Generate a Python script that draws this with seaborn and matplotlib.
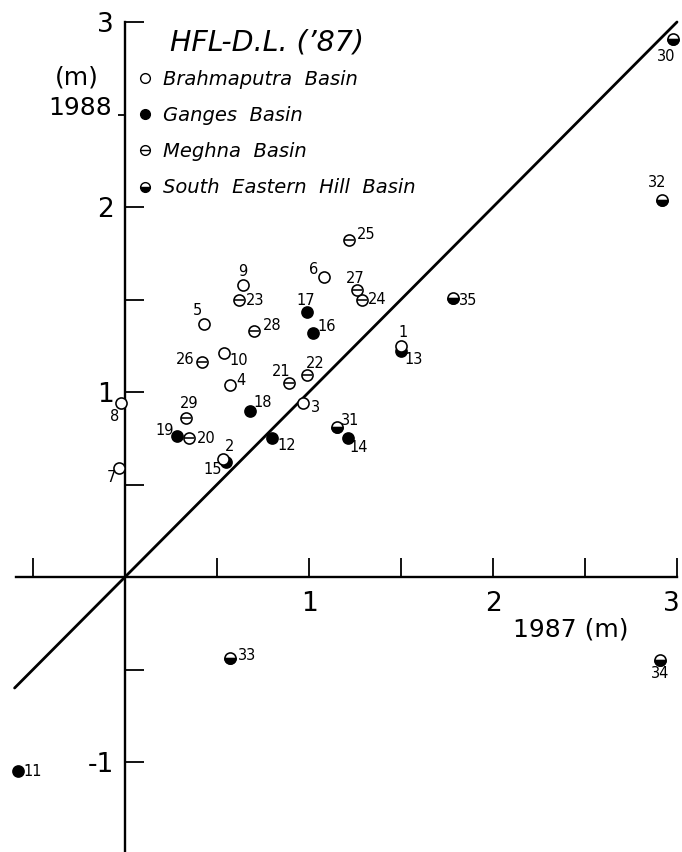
import numpy as np
import pandas as pd
import matplotlib
matplotlib.use("Agg")
import matplotlib.pyplot as plt
import seaborn as sns
from matplotlib.path import Path
from matplotlib.lines import Line2D
from matplotlib.legend_handler import HandlerTuple
from matplotlib.transforms import ScaledTranslation

# ---------------- data ----------------
brahma_ids = [1, 2, 3, 4, 5, 6, 7, 8, 9, 10]
brahma_x = [1.50, 0.53, 0.97, 0.57, 0.43, 1.08, -0.03, -0.02, 0.64, 0.54]
brahma_y = [1.25, 0.64, 0.94, 1.04, 1.37, 1.62, 0.59, 0.94, 1.58, 1.21]

ganges_ids = [11, 12, 13, 14, 15, 16, 17, 18, 19]
ganges_x = [-0.58, 0.80, 1.50, 1.21, 0.55, 1.02, 0.99, 0.68, 0.28]
ganges_y = [-1.05, 0.75, 1.22, 0.75, 0.62, 1.32, 1.43, 0.90, 0.76]

meghna_ids = [20, 21, 22, 23, 24, 25, 26, 27, 28, 29]
meghna_x = [0.35, 0.89, 0.99, 0.62, 1.29, 1.22, 0.42, 1.26, 0.70, 0.33]
meghna_y = [0.75, 1.05, 1.09, 1.50, 1.50, 1.82, 1.16, 1.55, 1.33, 0.86]

sehill_ids = [30, 31, 32, 33, 34, 35]
sehill_x = [2.98, 1.15, 2.92, 0.57, 2.91, 1.78]
sehill_y = [2.91, 0.81, 2.04, -0.44, -0.45, 1.51]

one_to_one = [-0.6, 3.0]

x_ticks = [-0.5, 0.5, 1, 1.5, 2, 2.5, 3]
x_tick_labels = ["", "", "1", "", "2", "", "3"]
y_ticks = [-1, -0.5, 0.5, 1, 1.5, 2, 3]
y_tick_labels = ["-1", "", "", "1", "", "2", "3"]
y_minor_ticks = [2.5]

legend_title = "HFL-D.L. (\u201987)"
legend_labels = ["Brahmaputra  Basin", "Ganges  Basin", "Meghna  Basin",
                 "South  Eastern  Hill  Basin"]

# label offsets (pixels) for point numbers
label_offsets = {
    1: (2, 13), 2: (7, 12), 3: (12, -4), 4: (11, 4), 5: (-7, 13), 6: (-10, 8),
    7: (-8, -10), 8: (-7, -13), 9: (0, 13), 10: (14, -7), 11: (14, 0),
    12: (15, -7), 13: (13, -8), 14: (11, -9), 15: (-14, -7), 16: (14, 6),
    17: (-1, 12), 18: (13, 8), 19: (-12, 6), 20: (17, 0), 21: (-8, 11),
    22: (8, 12), 23: (16, -1), 24: (15, 0), 25: (17, 6), 26: (-17, 3),
    27: (-2, 12), 28: (18, 5), 29: (3, 14), 30: (-7, -18), 31: (14, 7),
    32: (-5, 17), 33: (17, 3), 34: (0, -13), 35: (16, -3),
}

df = pd.concat([
    pd.DataFrame({"id": brahma_ids, "x": brahma_x, "y": brahma_y, "basin": "Brahmaputra"}),
    pd.DataFrame({"id": ganges_ids, "x": ganges_x, "y": ganges_y, "basin": "Ganges"}),
    pd.DataFrame({"id": meghna_ids, "x": meghna_x, "y": meghna_y, "basin": "Meghna"}),
    pd.DataFrame({"id": sehill_ids, "x": sehill_x, "y": sehill_y, "basin": "SEHill"}),
], ignore_index=True)
line_df = pd.DataFrame({"x": one_to_one, "y": one_to_one})

# ---------------- style ----------------
sns.set_theme(style="white")
plt.rcParams["font.family"] = ["DejaVu Sans"]
plt.rcParams["text.color"] = "black"

W, H = 682, 852
fig = plt.figure(figsize=(W / 100, H / 100), dpi=100)
ax = fig.add_axes([0, 0, 1, 1])
ax.set_facecolor("white")

# pixel mapping: origin at (125, 577), 184 px/unit in x, 185 px/unit in y
ax.set_xlim(-125 / 184, (W - 125) / 184)
ax.set_ylim((577 - H) / 185, 577 / 185)

def px(xp, yp):
    return xp / W, 1 - yp / H

S = 64
LW = 1.15

# 1:1 line
sns.lineplot(data=line_df, x="x", y="y", color="black", lw=2.0, ax=ax,
             zorder=2, legend=False)

# half-disk (lower half) marker
theta = np.linspace(np.pi, 2 * np.pi, 40)
verts = np.column_stack([np.cos(theta), np.sin(theta)])
verts = np.vstack([verts, verts[:1]])
codes = [Path.MOVETO] + [Path.LINETO] * (len(theta) - 1) + [Path.CLOSEPOLY]
half_disk = Path(verts, codes)

g = df[df.basin == "Ganges"]
b = df[df.basin == "Brahmaputra"]
m = df[df.basin == "Meghna"]
s = df[df.basin == "SEHill"]

sns.scatterplot(data=g, x="x", y="y", marker="o", s=S, color="black",
                edgecolor="black", linewidth=LW, ax=ax, zorder=4, legend=False)
sns.scatterplot(data=b, x="x", y="y", marker="o", s=S, color="white",
                edgecolor="black", linewidth=LW, ax=ax, zorder=5, legend=False)
sns.scatterplot(data=m, x="x", y="y", marker="o", s=S, color="white",
                edgecolor="black", linewidth=LW, ax=ax, zorder=4, legend=False)
sns.scatterplot(data=m, x="x", y="y", marker="_", s=S * 0.9, color="black",
                linewidth=LW, ax=ax, zorder=4.1, legend=False)
sns.scatterplot(data=s, x="x", y="y", marker="o", s=S, color="white",
                edgecolor="black", linewidth=LW, ax=ax, zorder=4, legend=False)
sns.scatterplot(data=s, x="x", y="y", marker=half_disk, s=S, color="black",
                edgecolor="black", linewidth=LW, ax=ax, zorder=4.1, legend=False)

for _, r in df.iterrows():
    dx, dy = label_offsets[int(r["id"])]
    ax.annotate(str(int(r["id"])), (r["x"], r["y"]), xytext=(dx, dy),
                textcoords="offset pixels", ha="center", va="center",
                fontsize=10.5, color="black", zorder=6)

# axes at the origin
for side in ["top", "right"]:
    ax.spines[side].set_visible(False)
ax.spines["left"].set_position(("data", 0))
ax.spines["bottom"].set_position(("data", 0))
ax.spines["left"].set_bounds(-1.6, 3.0)
ax.spines["bottom"].set_bounds(-0.59, 3.0)
for side in ["left", "bottom"]:
    ax.spines[side].set_color("black")
    ax.spines[side].set_linewidth(1.7)
    ax.spines[side].set_zorder(3)

ax.set_xticks(x_ticks)
ax.set_xticklabels(x_tick_labels)
ax.set_yticks(y_ticks)
ax.set_yticklabels(y_tick_labels)
ax.set_yticks(y_minor_ticks, minor=True)
ax.tick_params(axis="both", which="major", direction="in", length=14, width=1.3,
               color="black", labelsize=19, labelcolor="black",
               bottom=True, left=True, top=False, right=False)
ax.tick_params(axis="y", which="minor", direction="out", length=5, width=1.3,
               color="black", left=True, labelleft=False)
ax.tick_params(axis="x", which="major", pad=10)
ax.tick_params(axis="y", which="major", pad=8)
ax.set_xlabel("")
ax.set_ylabel("")
ax.grid(False)

# nudge the last x tick label inside the canvas
last = ax.get_xticklabels()[-1]
last.set_transform(last.get_transform() + ScaledTranslation(-6 / 100, 0, fig.dpi_scale_trans))

# axis titles
fig.text(*px(77, 77), "(m)", ha="center", va="center", fontsize=18)
fig.text(*px(80, 108), "1988", ha="center", va="center", fontsize=18)
fig.text(*px(571, 630), "1987 (m)", ha="center", va="center", fontsize=18)

# legend
fig.text(*px(170, 43), legend_title, ha="left", va="center", fontsize=20.5,
         style="italic")
ms = 7.0
h_b = Line2D([], [], ls="none", marker="o", ms=ms, mfc="white", mec="black", mew=1.0)
h_g = Line2D([], [], ls="none", marker="o", ms=ms, mfc="black", mec="black", mew=1.0)
h_m = (Line2D([], [], ls="none", marker="o", ms=ms, mfc="white", mec="black", mew=1.0),
       Line2D([], [], ls="none", marker="_", ms=ms * 0.95, mec="black", mew=1.0))
h_s = Line2D([], [], ls="none", marker="o", ms=ms, fillstyle="bottom",
             mfc="black", markerfacecoloralt="white", mec="black", mew=1.0)
leg = ax.legend([h_b, h_g, h_m, h_s], legend_labels,
                handler_map={tuple: HandlerTuple(ndivide=1)},
                loc="upper left", bbox_to_anchor=px(135, 70),
                frameon=False, borderpad=0, borderaxespad=0,
                handlelength=1.0, handletextpad=0.42, labelspacing=0.88,
                prop={"family": "DejaVu Sans", "style": "italic", "size": 14})

fig.savefig("out.png", dpi=100, facecolor="white")
